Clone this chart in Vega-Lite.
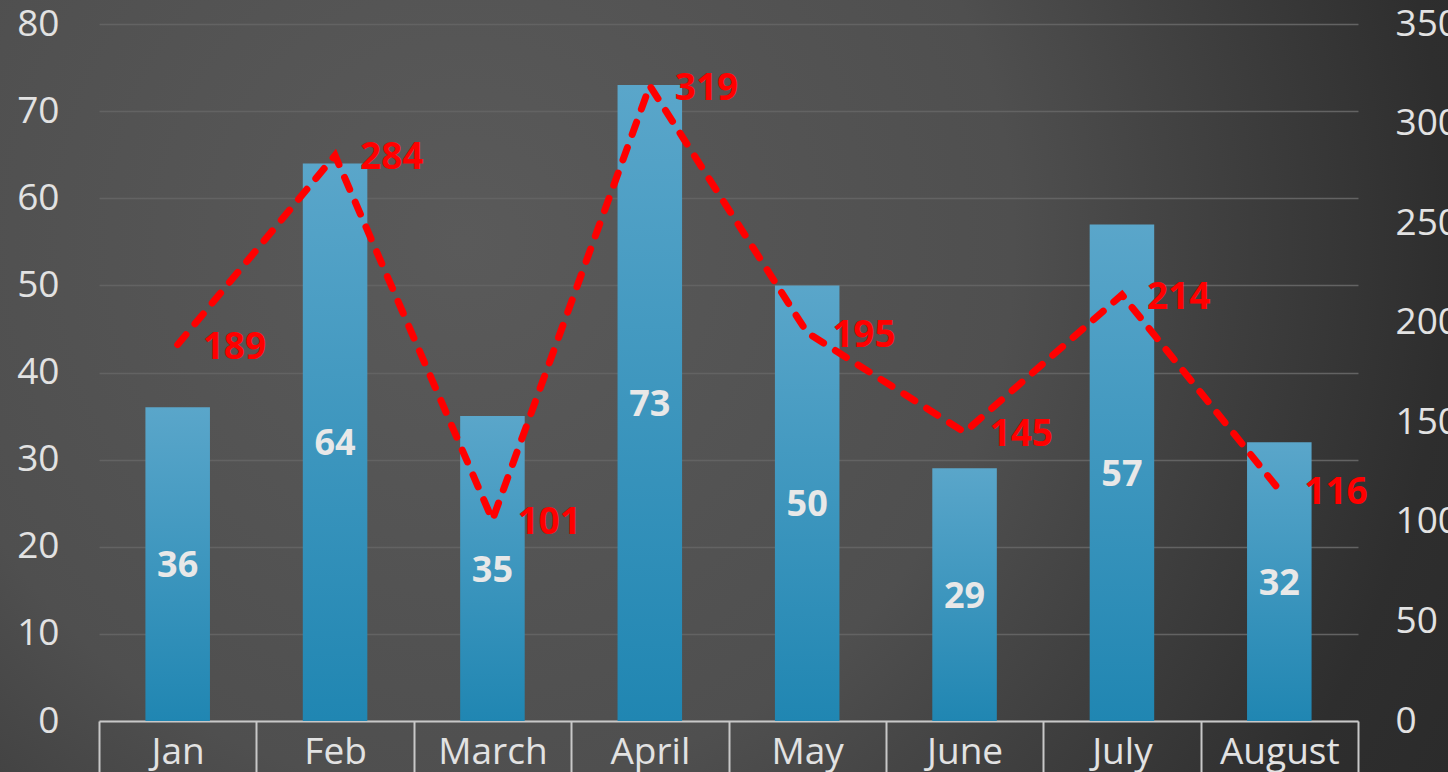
{
  "$schema": "https://vega.github.io/schema/vega-lite/v6.json",
  "width": 1448,
  "height": 772,
  "autosize": {"type": "none"},
  "padding": 0,
  "background": "#3a3a3a",
  "view": {
    "stroke": null,
    "fill": {
      "gradient": "radial",
      "x1": 0.32, "y1": 0.4, "r1": 0,
      "x2": 0.32, "y2": 0.4, "r2": 1,
      "stops": [
        {"offset": 0, "color": "#5a5a5a"},
        {"offset": 0.38, "color": "#4f4f4f"},
        {"offset": 0.68, "color": "#2e2e2e"},
        {"offset": 1, "color": "#242424"}
      ]
    }
  },
  "data": {
    "values": [
      {"month": "Jan", "sales": 36, "orders": 189},
      {"month": "Feb", "sales": 64, "orders": 284},
      {"month": "March", "sales": 35, "orders": 101},
      {"month": "April", "sales": 73, "orders": 319},
      {"month": "May", "sales": 50, "orders": 195},
      {"month": "June", "sales": 29, "orders": 145},
      {"month": "July", "sales": 57, "orders": 214},
      {"month": "August", "sales": 32, "orders": 116}
    ]
  },
  "encoding": {
    "x": {
      "field": "month",
      "type": "nominal",
      "sort": null,
      "scale": {"range": [99, 1358], "paddingInner": 0, "paddingOuter": 0},
      "axis": {
        "orient": "bottom",
        "offset": -51,
        "title": null,
        "grid": false,
        "domain": true,
        "domainColor": "#c8c8c8",
        "domainWidth": 2,
        "ticks": true,
        "tickBand": "extent",
        "tickSize": 60,
        "tickColor": "#c8c8c8",
        "tickWidth": 2,
        "labelAngle": 0,
        "labelPadding": -47,
        "labelFont": "Open Sans",
        "labelFontSize": 37,
        "labelColor": "#e2e2e2"
      }
    }
  },
  "layer": [
    {
      "transform": [{"calculate": "datum.sales / 2", "as": "mid"}],
      "layer": [
        {
          "mark": {
            "type": "bar",
            "width": {"band": 0.41},
            "color": {
              "gradient": "linear",
              "x1": 0, "y1": 0, "x2": 0, "y2": 1,
              "stops": [
                {"offset": 0, "color": "#5aa6ca"},
                {"offset": 1, "color": "#2086b2"}
              ]
            }
          },
          "encoding": {
            "y": {
              "field": "sales",
              "type": "quantitative",
              "scale": {"domain": [0, 80], "range": [721, 24], "nice": false},
              "axis": {
                "orient": "left",
                "offset": -99,
                "title": null,
                "values": [0, 10, 20, 30, 40, 50, 60, 70, 80],
                "domain": false,
                "ticks": false,
                "grid": true,
                "gridColor": "#636363",
                "gridWidth": 1.5,
                "labelPadding": 40,
                "labelFont": "Open Sans",
                "labelFontSize": 37,
                "labelColor": "#e2e2e2"
              }
            }
          }
        },
        {
          "mark": {
            "type": "text",
            "font": "Open Sans",
            "fontSize": 36,
            "fontWeight": "bold",
            "color": "#e8e8e8",
            "baseline": "middle",
            "dy": 2
          },
          "encoding": {
            "y": {"field": "mid", "type": "quantitative", "title": null},
            "text": {"field": "sales", "type": "quantitative"}
          }
        }
      ]
    },
    {
      "layer": [
        {
          "mark": {
            "type": "line",
            "color": "#ff0000",
            "strokeWidth": 7,
            "strokeDash": [13, 14],
            "strokeCap": "round"
          },
          "encoding": {
            "y": {
              "field": "orders",
              "type": "quantitative",
              "scale": {"domain": [0, 350], "range": [721, 24], "nice": false},
              "axis": {
                "orient": "right",
                "offset": -90,
                "title": null,
                "values": [0, 50, 100, 150, 200, 250, 300, 350],
                "domain": false,
                "ticks": false,
                "grid": false,
                "labelPadding": 37,
                "labelFont": "Open Sans",
                "labelFontSize": 37,
                "labelColor": "#e2e2e2"
              }
            }
          }
        },
        {
          "mark": {
            "type": "text",
            "font": "Open Sans",
            "fontSize": 37,
            "fontWeight": "bold",
            "color": "#ff0000",
            "align": "left",
            "baseline": "middle",
            "dx": 25,
            "dy": 3
          },
          "encoding": {
            "y": {"field": "orders", "type": "quantitative", "title": null},
            "text": {"field": "orders", "type": "quantitative"}
          }
        }
      ]
    }
  ],
  "resolve": {"scale": {"y": "independent"}, "axis": {"y": "independent"}}
}
